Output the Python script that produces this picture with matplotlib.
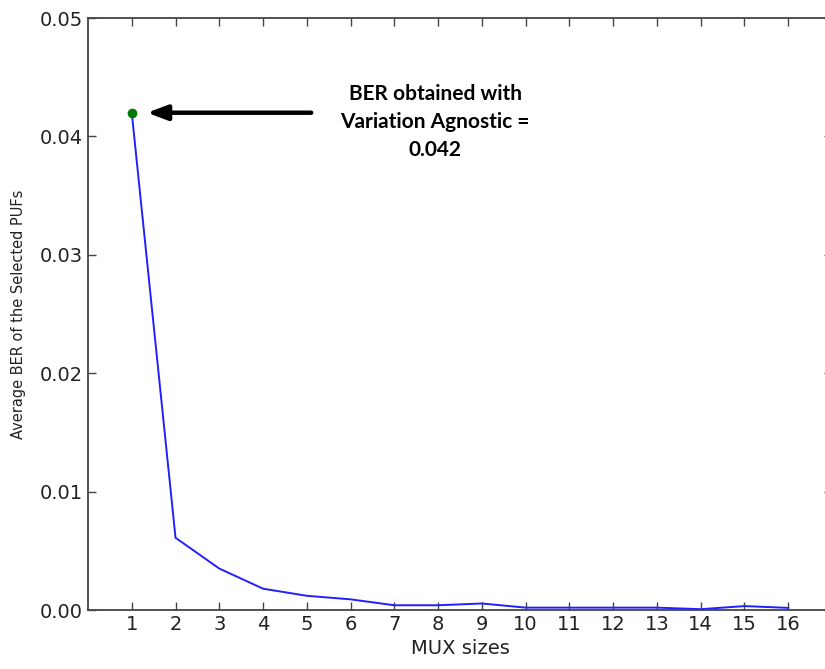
import matplotlib
matplotlib.use("Agg")
import matplotlib.pyplot as plt

mux_sizes = list(range(1, 17))
avg_ber = [0.042, 0.0061, 0.0035, 0.0018, 0.0012, 0.0009, 0.0004, 0.0004,
           0.00055, 0.0002, 0.0002, 0.0002, 0.0002, 0.00007, 0.00033, 0.00018]
agnostic_ber = 0.042

fig = plt.figure(figsize=(8.25, 6.69), dpi=100)
ax = fig.add_axes([88/825, 59/669, 744/825, 592/669])
ax.plot(mux_sizes, avg_ber, "-", color="#2020ff", lw=1.4)
ax.plot([1], [agnostic_ber], "o", color="#007a00", ms=6)

ax.set_xlim(0, 17)
ax.set_ylim(0, 0.05)
ax.set_xticks(mux_sizes)
ax.set_yticks([0, 0.01, 0.02, 0.03, 0.04, 0.05])
ax.set_yticklabels([f"{v:.2f}" for v in [0, 0.01, 0.02, 0.03, 0.04, 0.05]])
ax.tick_params(direction="in", top=True, right=True, labelsize=14, length=6,
               color="#444444", width=1, labelcolor="#222222")
for s in ax.spines.values():
    s.set_color("#444444"); s.set_linewidth(1.3)
ax.set_xlabel("MUX sizes", fontsize=14, labelpad=4, color="#222222")
ax.set_ylabel("Average BER of the Selected PUFs", fontsize=10.5, labelpad=10,
              color="#222222")

ax.annotate("", xy=(1.35, agnostic_ber), xytext=(5.1, agnostic_ber),
            arrowprops=dict(arrowstyle="-|>,head_length=1.2,head_width=0.45",
                            color="black", lw=3.2, shrinkA=0, shrinkB=0))
ax.text(7.93, 0.0444, "BER obtained with\nVariation Agnostic =\n0.042",
        ha="center", va="top", fontsize=15, fontweight="bold",
        family="Lato", linespacing=1.5)

fig.savefig("out.png", dpi=100)
